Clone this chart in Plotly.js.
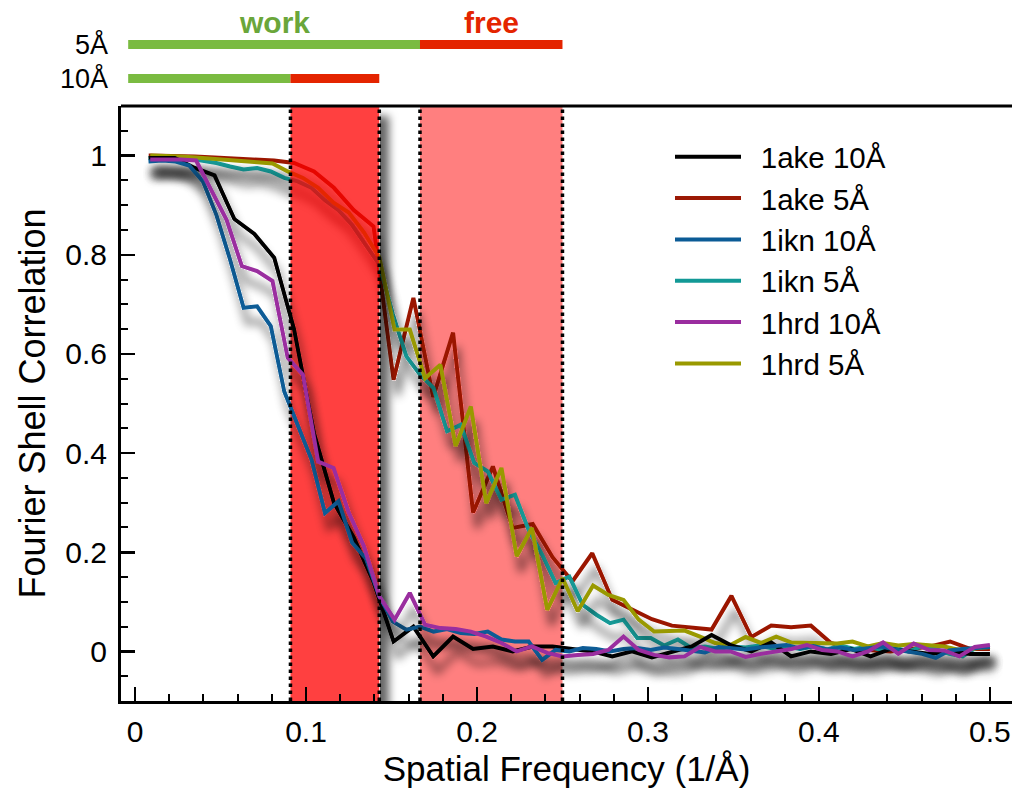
<!DOCTYPE html>
<html><head><meta charset="utf-8">
<script src="https://cdn.plot.ly/plotly-3.0.1.min.js"></script>
<style>html,body{margin:0;padding:0;background:#fff}#chart{width:1012px;height:789px}</style>
</head><body><div id="chart"></div><script>
// Spatial frequency sampling (1/Å) of each structure's FSC curve
const freq1ake = [0.0080,0.0233,0.0349,0.0465,0.0581,0.0698,0.0814,0.0930,0.1047,0.1163,0.1279,0.1395,0.1512,0.1628,0.1744,0.1860,0.1977,0.2093,0.2209,0.2326,0.2442,0.2558,0.2674,0.2791,0.2907,0.3023,0.3140,0.3256,0.3372,0.3488,0.3605,0.3721,0.3837,0.3953,0.4070,0.4186,0.4302,0.4419,0.4535,0.4651,0.4767,0.4884,0.5000];
const freq1hrd = [0.0089,0.0179,0.0268,0.0357,0.0446,0.0536,0.0625,0.0714,0.0804,0.0893,0.0982,0.1071,0.1161,0.1250,0.1339,0.1429,0.1518,0.1607,0.1696,0.1786,0.1875,0.1964,0.2054,0.2143,0.2232,0.2321,0.2411,0.2500,0.2589,0.2679,0.2768,0.2857,0.2946,0.3036,0.3125,0.3214,0.3304,0.3393,0.3482,0.3571,0.3661,0.3750,0.3839,0.3929,0.4018,0.4107,0.4196,0.4286,0.4375,0.4464,0.4554,0.4643,0.4732,0.4821,0.4911,0.5000];
const freq1ikn = [0.0079,0.0159,0.0238,0.0317,0.0397,0.0476,0.0556,0.0635,0.0714,0.0794,0.0873,0.0952,0.1032,0.1111,0.1190,0.1270,0.1349,0.1429,0.1508,0.1587,0.1667,0.1746,0.1825,0.1905,0.1984,0.2063,0.2143,0.2222,0.2302,0.2381,0.2460,0.2540,0.2619,0.2698,0.2778,0.2857,0.2937,0.3016,0.3095,0.3175,0.3254,0.3333,0.3413,0.3492,0.3571,0.3651,0.3730,0.3810,0.3889,0.3968,0.4048,0.4127,0.4206,0.4286,0.4365,0.4444,0.4524,0.4603,0.4683,0.4762,0.4841,0.4921,0.5000];

// FSC values
const fsc1ake10 = [0.995,0.995,0.975,0.96,0.872,0.842,0.794,0.65,0.44,0.30,0.23,0.14,0.02,0.05,-0.01,0.03,0.005,0.01,0.0,0.01,0.01,0.005,0.0,-0.01,0.0,-0.012,0.0,0.01,0.033,0.012,0.0,0.018,-0.01,0.0,-0.005,0.005,-0.01,0.005,0.0,-0.005,0.0,-0.005,-0.005];
const fsc1ake5 = [1.0,1.0,0.998,0.996,0.994,0.993,0.99,0.985,0.968,0.935,0.89,0.857,0.548,0.713,0.513,0.643,0.28,0.373,0.249,0.257,0.19,0.141,0.198,0.104,0.085,0.065,0.052,0.047,0.044,0.112,0.029,0.052,0.049,0.052,0.017,0.005,0.002,0.0,0.005,0.01,0.02,0.005,0.005];
const fsc1ikn10 = [0.988,0.99,0.988,0.98,0.948,0.88,0.79,0.693,0.696,0.656,0.524,0.454,0.387,0.279,0.303,0.219,0.188,0.111,0.06,0.044,0.05,0.04,0.045,0.037,0.035,0.04,0.024,0.02,0.02,-0.017,0.003,0.0,0.007,0.005,0.0,0.005,0.007,0.003,0.008,0.005,0.002,-0.002,0.009,0.006,0.004,0.008,0.01,0.013,0.006,0.011,0.004,0.008,0.003,0.006,0.01,0.004,0.0,-0.005,-0.013,0.002,0.005,0.008,0.009];
const fsc1ikn5 = [0.995,0.997,0.997,0.994,0.99,0.985,0.978,0.972,0.975,0.968,0.955,0.948,0.935,0.91,0.89,0.86,0.82,0.78,0.68,0.595,0.558,0.531,0.444,0.457,0.38,0.363,0.306,0.316,0.245,0.195,0.138,0.151,0.094,0.074,0.057,0.064,0.027,0.027,0.012,0.024,0.007,0.01,0.005,0.01,0.008,0.012,0.006,0.01,0.005,0.01,0.004,0.012,0.005,0.01,0.003,0.008,0.0,0.01,0.005,-0.005,-0.01,0.008,0.01];
const fsc1hrd10 = [0.992,0.993,0.992,0.99,0.93,0.87,0.777,0.767,0.747,0.592,0.558,0.383,0.37,0.28,0.212,0.111,0.064,0.118,0.054,0.047,0.045,0.04,0.03,0.017,0.0,0.01,-0.003,-0.01,-0.007,-0.005,0.003,0.03,0.003,-0.007,-0.012,-0.01,0.009,0.0,0.0,-0.011,-0.005,0.0,0.005,0.013,0.003,0.0,-0.01,0.0,0.018,-0.005,0.016,0.003,0.002,-0.01,0.009,0.013];
const fsc1hrd5 = [1.0,1.0,0.998,0.996,0.994,0.992,0.99,0.987,0.984,0.968,0.955,0.935,0.905,0.885,0.845,0.795,0.649,0.649,0.551,0.578,0.414,0.494,0.299,0.37,0.192,0.249,0.084,0.148,0.081,0.133,0.114,0.104,0.064,0.04,0.04,0.042,0.03,0.017,0.013,0.029,0.017,0.03,0.018,0.017,0.016,0.016,0.02,0.01,0.017,0.012,0.015,0.013,0.01,0.003,0.006,0.009];

// Work / free frequency bands: [start, work/free split, end]
const band10 = [-0.004, 1/11, 1/7];
const band5 = [-0.004, 1/6, 1/4];
const bandLabels = ['work', 'free'];
const rowLabels = ['5Å', '10Å'];
const seriesNames = ['1ake 10Å', '1ake 5Å', '1ikn 10Å', '1ikn 5Å', '1hrd 10Å', '1hrd 5Å'];
const xTitle = 'Spatial Frequency (1/Å)';
const yTitle = 'Fourier Shell Correlation';
const yRange = [-0.1, 1.1];
const xRange = [-0.0082, 0.5129];

const FONT = 'Liberation Sans, Arial, Helvetica, sans-serif';
const GREEN = '#7abb41', RED = '#e42400';
const SP = '\u2002'; // gap between legend line and label

function curve(idx, x, y, color) {
  return {type: 'scatter', mode: 'lines', name: SP + seriesNames[idx], x: x, y: y,
    line: {color: color, width: 4, shape: 'linear'}, legendrank: idx + 1, hoverinfo: 'skip'};
}
function bandTrace(x0, x1, color) {
  return {type: 'scatter', mode: 'lines', x: [x0, x1, x1, x0, x0],
    y: [yRange[0], yRange[0], yRange[1], yRange[1], yRange[0]],
    fill: 'toself', fillcolor: color, line: {width: 0}, showlegend: false, hoverinfo: 'skip'};
}

const data = [
  bandTrace(band5[1], band5[2], 'rgba(255,0,0,0.5)'),
  curve(1, freq1ake, fsc1ake5, '#9b1905'),
  curve(3, freq1ikn, fsc1ikn5, '#129996'),
  curve(5, freq1hrd, fsc1hrd5, '#999900'),
  bandTrace(band10[1], band10[2], 'rgba(255,0,0,0.75)'),
  curve(0, freq1ake, fsc1ake10, '#000000'),
  curve(2, freq1ikn, fsc1ikn10, '#0b5b96'),
  curve(4, freq1hrd, fsc1hrd10, '#9a2d9f')
];

const plotTop = 106, plotBottom = 701, plotH = plotBottom - plotTop;
const py = p => (plotBottom - p) / plotH; // pixel row -> paper y

const shapes = [
  {type: 'line', xref: 'paper', yref: 'paper', x0: 0, x1: 1, y0: 1, y1: 1, line: {color: '#000', width: 3}},
  ...[band10[1], band10[2], band5[1], band5[2]].map(v => ({type: 'line', xref: 'x', yref: 'paper', x0: v, x1: v, y0: 0, y1: 1,
    line: {color: '#000', width: 3.5, dash: 'dot'}, layer: 'above'})),
  {type: 'rect', xref: 'x', yref: 'paper', x0: band5[0], x1: band5[1], y0: py(49), y1: py(40), fillcolor: GREEN, line: {width: 0}},
  {type: 'rect', xref: 'x', yref: 'paper', x0: band5[1], x1: band5[2], y0: py(49), y1: py(40), fillcolor: RED, line: {width: 0}},
  {type: 'rect', xref: 'x', yref: 'paper', x0: band10[0], x1: band10[1], y0: py(83), y1: py(74), fillcolor: GREEN, line: {width: 0}},
  {type: 'rect', xref: 'x', yref: 'paper', x0: band10[1], x1: band10[2], y0: py(83), y1: py(74), fillcolor: RED, line: {width: 0}}
];

const annotations = [
  {text: bandLabels[0], xref: 'x', yref: 'paper', x: (band5[0] + band5[1]) / 2, y: py(22), showarrow: false,
   font: {family: FONT, size: 30, color: '#6aa63a', weight: 'bold'}, xanchor: 'center', yanchor: 'middle'},
  {text: bandLabels[1], xref: 'x', yref: 'paper', x: (band5[1] + band5[2]) / 2, y: py(22), showarrow: false,
   font: {family: FONT, size: 30, color: RED, weight: 'bold'}, xanchor: 'center', yanchor: 'middle'},
  {text: rowLabels[0], xref: 'paper', yref: 'paper', x: (110 - 121) / 891, y: py(45), showarrow: false,
   font: {family: FONT, size: 27, color: '#000'}, xanchor: 'right', yanchor: 'middle'},
  {text: rowLabels[1], xref: 'paper', yref: 'paper', x: (110 - 121) / 891, y: py(79), showarrow: false,
   font: {family: FONT, size: 27, color: '#000'}, xanchor: 'right', yanchor: 'middle'}
];

const axisCommon = {showgrid: false, zeroline: false, showline: true, linewidth: 3, linecolor: '#000',
  ticks: 'inside', ticklen: 14, tickwidth: 2.5, tickcolor: '#000', tickfont: {family: FONT, size: 30, color: '#000'}};

const layout = {
  width: 1012, height: 789,
  margin: {l: 121, r: 0, t: plotTop, b: 789 - plotBottom, pad: 0},
  paper_bgcolor: '#fff', plot_bgcolor: '#fff',
  font: {family: FONT, color: '#000'},
  xaxis: Object.assign({}, axisCommon, {range: xRange, dtick: 0.1, tick0: 0, ticklabelstandoff: 2,
    minor: {dtick: 0.02, tick0: 0, ticks: 'inside', ticklen: 7, tickwidth: 2, tickcolor: '#000'},
    title: {text: xTitle, font: {family: FONT, size: 35, color: '#000'}, standoff: 10}}),
  yaxis: Object.assign({}, axisCommon, {range: yRange, dtick: 0.2, tick0: 0, ticklabelstandoff: 5,
    minor: {dtick: 0.05, tick0: 0, ticks: 'inside', ticklen: 7, tickwidth: 2, tickcolor: '#000'},
    title: {text: yTitle, font: {family: FONT, size: 36, color: '#000'}, standoff: 9}}),
  legend: {x: (670 - 121) / 891, y: py(131), xanchor: 'left', yanchor: 'top', bgcolor: 'rgba(0,0,0,0)',
    font: {family: FONT, size: 29.5, color: '#000'}, itemwidth: 66, traceorder: 'normal', tracegroupgap: 0},
  shapes: shapes,
  annotations: annotations,
  showlegend: true
};

Plotly.newPlot('chart', data, layout, {staticPlot: true, displayModeBar: false}).then(gd => {
  const ns = 'http://www.w3.org/2000/svg';
  const svg = gd.querySelector('svg.main-svg');
  let defs = svg.querySelector('defs');
  if (!defs) { defs = document.createElementNS(ns, 'defs'); svg.insertBefore(defs, svg.firstChild); }
  function el(tag, attrs, parent) {
    const e = document.createElementNS(ns, tag);
    Object.keys(attrs).forEach(k => e.setAttribute(k, attrs[k]));
    parent.appendChild(e); return e;
  }
  function mkFilter(id, dx, dy, sd, op) {
    const f = el('filter', {id: id, filterUnits: 'userSpaceOnUse', x: -200, y: -200, width: 1500, height: 1200}, defs);
    el('feComponentTransfer', {in: 'SourceAlpha', result: 'solid'}, f);
    el('feFuncA', {type: 'linear', slope: 20}, f.lastChild);
    el('feGaussianBlur', {in: 'solid', stdDeviation: sd, result: 'blur'}, f);
    el('feOffset', {in: 'blur', dx: dx, dy: dy, result: 'off'}, f);
    el('feFlood', {'flood-color': '#000', 'flood-opacity': op, result: 'col'}, f);
    el('feComposite', {in: 'col', in2: 'off', operator: 'in', result: 'shadow'}, f);
    el('feComposite', {in: 'shadow', in2: 'solid', operator: 'out', result: 'shadowOut'}, f);
    const m = el('feMerge', {}, f);
    el('feMergeNode', {in: 'shadowOut'}, m);
    el('feMergeNode', {in: 'SourceGraphic'}, m);
  }
  mkFilter('curveShadow', 4, 15, 5, 0.5);
  mkFilter('bandShadow', 9, 10, 4, 0.6);
  const traces = gd.querySelectorAll('.scatterlayer .trace');
  traces.forEach((t, i) => {
    if (i === 0) return;
    t.setAttribute('filter', i === 4 ? 'url(#bandShadow)' : 'url(#curveShadow)');
  });
});
</script></body></html>
